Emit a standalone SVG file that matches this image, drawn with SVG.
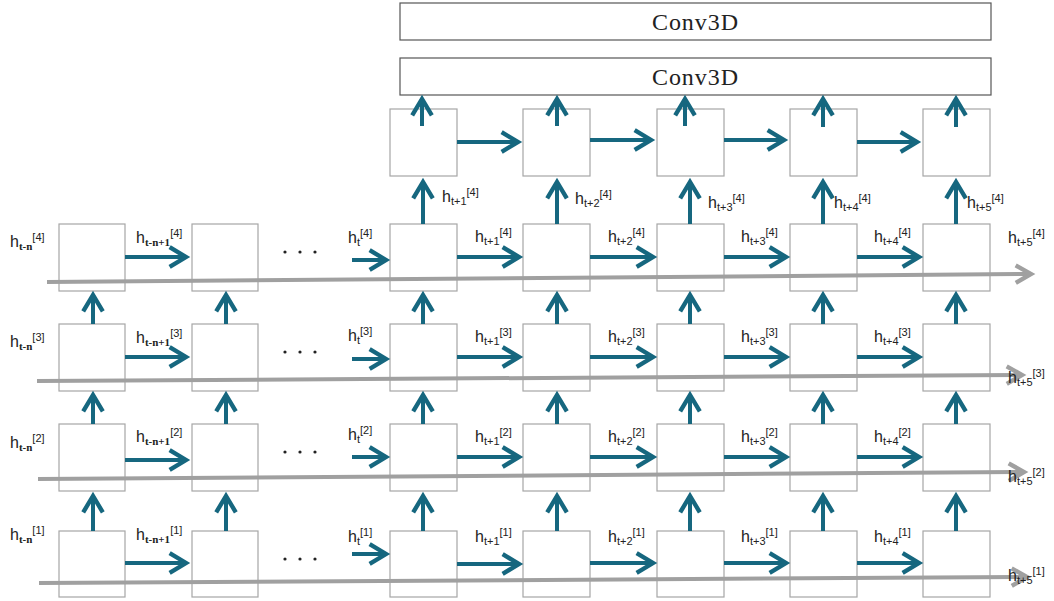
<svg xmlns="http://www.w3.org/2000/svg" width="1054" height="601" viewBox="0 0 1054 601">
<style>
.box{fill:#fff;stroke:#a6a6a6;stroke-width:1.2}
.cbox{fill:#fff;stroke:#555;stroke-width:1.2}
.ar{fill:none;stroke:#16677f;stroke-width:4;marker-end:url(#ah)}
.gr{fill:none;stroke:#a0a0a0;stroke-width:4;marker-end:url(#gh)}
.lb{font-family:"Liberation Sans",Arial,sans-serif;font-size:16px;fill:#222}
.s{font-size:11px}
.sn{font-family:"Liberation Serif",serif;font-weight:bold;font-size:11px}
.cv{font-family:"Liberation Serif","Times New Roman",serif;font-size:24px;fill:#222}
.dots{fill:#222}
</style>
<defs>
<marker id="ah" markerUnits="userSpaceOnUse" markerWidth="24" markerHeight="24" viewBox="-2 -2 22 22" refX="15" refY="9" orient="auto" overflow="visible">
<path d="M0,0 L15,9 L0,18" fill="none" stroke="#16677f" stroke-width="4"/>
</marker>
<marker id="gh" markerUnits="userSpaceOnUse" markerWidth="24" markerHeight="24" viewBox="-2 -2 22 22" refX="14" refY="8" orient="auto" overflow="visible">
<path d="M0,0 L14,8 L0,16" fill="none" stroke="#a0a0a0" stroke-width="4"/>
</marker>
</defs>

<g id="conv3d-top"><rect class="cbox" x="400" y="3" width="591" height="37"/><text class="cv" x="695" y="30" text-anchor="middle" textLength="86" lengthAdjust="spacing">Conv3D</text></g>
<g id="conv3d-bottom"><rect class="cbox" x="400" y="58" width="591" height="37"/><text class="cv" x="695" y="85" text-anchor="middle" textLength="86" lengthAdjust="spacing">Conv3D</text></g>

<g id="decoder">
<rect id="d2" class="box" x="390" y="109" width="67" height="67"/>
<rect id="d3" class="box" x="523" y="109" width="67" height="67"/>
<rect id="d4" class="box" x="657" y="109" width="67" height="67"/>
<rect id="d5" class="box" x="790" y="109" width="67" height="67"/>
<rect id="d6" class="box" x="923" y="109" width="67" height="67"/>
</g>

<g id="row4">
<rect class="box" x="59" y="224" width="66" height="67"/>
<rect class="box" x="192" y="224" width="66" height="67"/>
<rect class="box" x="390" y="224" width="67" height="67"/>
<rect class="box" x="523" y="224" width="67" height="67"/>
<rect class="box" x="657" y="224" width="67" height="67"/>
<rect class="box" x="790" y="224" width="67" height="67"/>
<rect class="box" x="923" y="224" width="67" height="67"/>
</g>
<g id="row3">
<rect class="box" x="59" y="324" width="66" height="67"/>
<rect class="box" x="192" y="324" width="66" height="67"/>
<rect class="box" x="390" y="324" width="67" height="67"/>
<rect class="box" x="523" y="324" width="67" height="67"/>
<rect class="box" x="657" y="324" width="67" height="67"/>
<rect class="box" x="790" y="324" width="67" height="67"/>
<rect class="box" x="923" y="324" width="67" height="67"/>
</g>
<g id="row2">
<rect class="box" x="59" y="424" width="66" height="67"/>
<rect class="box" x="192" y="424" width="66" height="67"/>
<rect class="box" x="390" y="424" width="67" height="67"/>
<rect class="box" x="523" y="424" width="67" height="67"/>
<rect class="box" x="657" y="424" width="67" height="67"/>
<rect class="box" x="790" y="424" width="67" height="67"/>
<rect class="box" x="923" y="424" width="67" height="67"/>
</g>
<g id="row1">
<rect class="box" x="59" y="531" width="66" height="66"/>
<rect class="box" x="192" y="531" width="66" height="66"/>
<rect class="box" x="390" y="531" width="67" height="66"/>
<rect class="box" x="523" y="531" width="67" height="66"/>
<rect class="box" x="657" y="531" width="67" height="66"/>
<rect class="box" x="790" y="531" width="67" height="66"/>
<rect class="box" x="923" y="531" width="67" height="66"/>
</g>

<g id="connectors">
<path class="gr" d="M47,282 L1031,274"/>
<path class="gr" d="M37,381 L1022,375"/>
<path class="gr" d="M38,479 L1024,472"/>
<path class="gr" d="M39,583 L1027,577"/>

<path class="ar" d="M457,142 H518"/>
<path class="ar" d="M590,140 H651"/>
<path class="ar" d="M724,140 H784"/>
<path class="ar" d="M857,142 H917"/>

<path class="ar" d="M422,126 V99"/>
<path class="ar" d="M557,126 V99"/>
<path class="ar" d="M685,126 V99"/>
<path class="ar" d="M823,127 V99"/>
<path class="ar" d="M956,127 V99"/>

<path class="ar" d="M423,224 V182"/>
<path class="ar" d="M557,224 V182"/>
<path class="ar" d="M690,224 V182"/>
<path class="ar" d="M823,224 V182"/>
<path class="ar" d="M956,224 V182"/>

<path class="ar" d="M125,257 H186"/><path class="ar" d="M352,260 H386"/><path class="ar" d="M457,257 H519"/><path class="ar" d="M590,257 H653"/><path class="ar" d="M724,257 H786"/><path class="ar" d="M857,257 H919"/>
<path class="ar" d="M125,357 H186"/><path class="ar" d="M352,359 H386"/><path class="ar" d="M457,357 H519"/><path class="ar" d="M590,357 H653"/><path class="ar" d="M724,357 H786"/><path class="ar" d="M857,357 H919"/>
<path class="ar" d="M125,460 H186"/><path class="ar" d="M352,457 H386"/><path class="ar" d="M457,457 H519"/><path class="ar" d="M590,457 H653"/><path class="ar" d="M724,457 H786"/><path class="ar" d="M857,457 H919"/>
<path class="ar" d="M125,563 H186"/><path class="ar" d="M352,554 H386"/><path class="ar" d="M457,564 H519"/><path class="ar" d="M590,563 H653"/><path class="ar" d="M724,563 H786"/><path class="ar" d="M857,563 H919"/>

<path class="ar" d="M93,324 V295"/><path class="ar" d="M226,324 V295"/><path class="ar" d="M423,324 V295"/><path class="ar" d="M557,324 V295"/><path class="ar" d="M690,324 V295"/><path class="ar" d="M823,324 V295"/><path class="ar" d="M956,324 V295"/>
<path class="ar" d="M93,424 V395"/><path class="ar" d="M226,424 V395"/><path class="ar" d="M423,424 V395"/><path class="ar" d="M557,424 V395"/><path class="ar" d="M690,424 V395"/><path class="ar" d="M823,424 V395"/><path class="ar" d="M956,424 V395"/>
<path class="ar" d="M93,531 V496"/><path class="ar" d="M226,531 V496"/><path class="ar" d="M423,531 V496"/><path class="ar" d="M557,531 V496"/><path class="ar" d="M690,531 V496"/><path class="ar" d="M823,531 V496"/><path class="ar" d="M956,531 V496"/>
</g>

<g id="dots" class="dots">
<circle cx="285" cy="252" r="1.6"/><circle cx="300" cy="252" r="1.6"/><circle cx="315" cy="252" r="1.6"/>
<circle cx="285" cy="352" r="1.6"/><circle cx="300" cy="352" r="1.6"/><circle cx="315" cy="352" r="1.6"/>
<circle cx="285" cy="452" r="1.6"/><circle cx="300" cy="452" r="1.6"/><circle cx="315" cy="452" r="1.6"/>
<circle cx="285" cy="559" r="1.6"/><circle cx="300" cy="559" r="1.6"/><circle cx="315" cy="559" r="1.6"/>
</g>

<g id="labels" class="lb">
<text x="442" y="202">h<tspan class="s" dy="3">t+1</tspan><tspan class="s" dy="-9">[4]</tspan></text>
<text x="575" y="204">h<tspan class="s" dy="3">t+2</tspan><tspan class="s" dy="-9">[4]</tspan></text>
<text x="708" y="208">h<tspan class="s" dy="3">t+3</tspan><tspan class="s" dy="-9">[4]</tspan></text>
<text x="834" y="208">h<tspan class="s" dy="3">t+4</tspan><tspan class="s" dy="-9">[4]</tspan></text>
<text x="967" y="208">h<tspan class="s" dy="3">t+5</tspan><tspan class="s" dy="-9">[4]</tspan></text>

<text x="10" y="247">h<tspan class="sn" dy="3">t-n</tspan><tspan class="s" dy="-9">[4]</tspan></text>
<text x="136" y="243">h<tspan class="sn" dy="3">t-n+1</tspan><tspan class="s" dy="-9">[4]</tspan></text>
<text x="348" y="243">h<tspan class="s" dy="3">t</tspan><tspan class="s" dy="-9">[4]</tspan></text>
<text x="475" y="242">h<tspan class="s" dy="3">t+1</tspan><tspan class="s" dy="-9">[4]</tspan></text>
<text x="608" y="242">h<tspan class="s" dy="3">t+2</tspan><tspan class="s" dy="-9">[4]</tspan></text>
<text x="741" y="242">h<tspan class="s" dy="3">t+3</tspan><tspan class="s" dy="-9">[4]</tspan></text>
<text x="874" y="242">h<tspan class="s" dy="3">t+4</tspan><tspan class="s" dy="-9">[4]</tspan></text>
<text x="1008" y="243">h<tspan class="s" dy="3">t+5</tspan><tspan class="s" dy="-9">[4]</tspan></text>

<text x="10" y="347">h<tspan class="sn" dy="3">t-n</tspan><tspan class="s" dy="-9">[3]</tspan></text>
<text x="136" y="343">h<tspan class="sn" dy="3">t-n+1</tspan><tspan class="s" dy="-9">[3]</tspan></text>
<text x="348" y="341">h<tspan class="s" dy="3">t</tspan><tspan class="s" dy="-9">[3]</tspan></text>
<text x="475" y="342">h<tspan class="s" dy="3">t+1</tspan><tspan class="s" dy="-9">[3]</tspan></text>
<text x="608" y="342">h<tspan class="s" dy="3">t+2</tspan><tspan class="s" dy="-9">[3]</tspan></text>
<text x="741" y="342">h<tspan class="s" dy="3">t+3</tspan><tspan class="s" dy="-9">[3]</tspan></text>
<text x="874" y="342">h<tspan class="s" dy="3">t+4</tspan><tspan class="s" dy="-9">[3]</tspan></text>
<text x="1008" y="383">h<tspan class="s" dy="3">t+5</tspan><tspan class="s" dy="-9">[3]</tspan></text>

<text x="10" y="448">h<tspan class="sn" dy="3">t-n</tspan><tspan class="s" dy="-9">[2]</tspan></text>
<text x="136" y="442">h<tspan class="sn" dy="3">t-n+1</tspan><tspan class="s" dy="-9">[2]</tspan></text>
<text x="348" y="440">h<tspan class="s" dy="3">t</tspan><tspan class="s" dy="-9">[2]</tspan></text>
<text x="475" y="442">h<tspan class="s" dy="3">t+1</tspan><tspan class="s" dy="-9">[2]</tspan></text>
<text x="608" y="442">h<tspan class="s" dy="3">t+2</tspan><tspan class="s" dy="-9">[2]</tspan></text>
<text x="741" y="442">h<tspan class="s" dy="3">t+3</tspan><tspan class="s" dy="-9">[2]</tspan></text>
<text x="874" y="442">h<tspan class="s" dy="3">t+4</tspan><tspan class="s" dy="-9">[2]</tspan></text>
<text x="1008" y="482">h<tspan class="s" dy="3">t+5</tspan><tspan class="s" dy="-9">[2]</tspan></text>

<text x="10" y="540">h<tspan class="sn" dy="3">t-n</tspan><tspan class="s" dy="-9">[1]</tspan></text>
<text x="136" y="540">h<tspan class="sn" dy="3">t-n+1</tspan><tspan class="s" dy="-9">[1]</tspan></text>
<text x="348" y="542">h<tspan class="s" dy="3">t</tspan><tspan class="s" dy="-9">[1]</tspan></text>
<text x="475" y="542">h<tspan class="s" dy="3">t+1</tspan><tspan class="s" dy="-9">[1]</tspan></text>
<text x="608" y="542">h<tspan class="s" dy="3">t+2</tspan><tspan class="s" dy="-9">[1]</tspan></text>
<text x="741" y="542">h<tspan class="s" dy="3">t+3</tspan><tspan class="s" dy="-9">[1]</tspan></text>
<text x="874" y="542">h<tspan class="s" dy="3">t+4</tspan><tspan class="s" dy="-9">[1]</tspan></text>
<text x="1008" y="581">h<tspan class="s" dy="3">t+5</tspan><tspan class="s" dy="-9">[1]</tspan></text>
</g>
</svg>
